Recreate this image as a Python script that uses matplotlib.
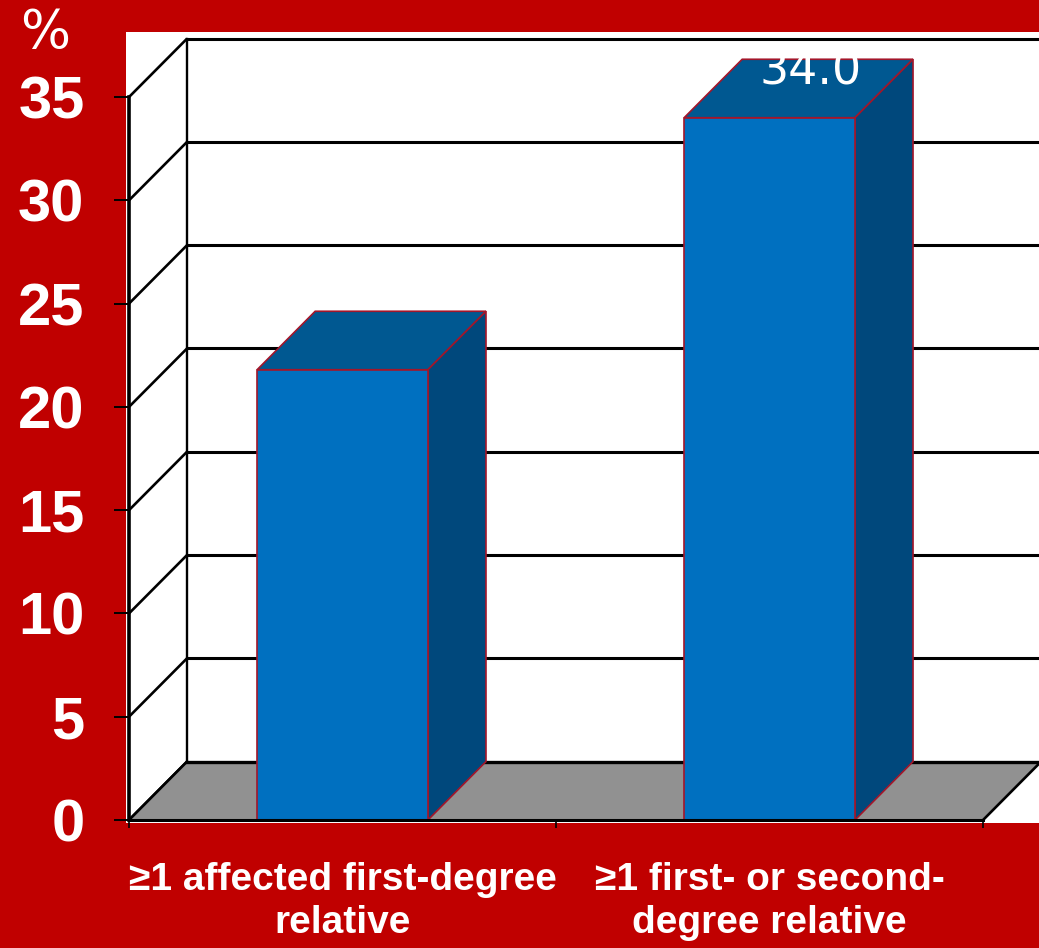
import numpy as np
import matplotlib
matplotlib.use("Agg")
import matplotlib.pyplot as plt
from matplotlib.patches import Polygon

# data
categories = ["\u22651 affected first-degree\nrelative", "\u22651 first- or second-\ndegree relative"]
values = [21.8, 34.0]
shown_labels = [None, "34.0"]
yticks = [0, 5, 10, 15, 20, 25, 30, 35]

red = "#C00000"
front_col = "#0070C0"
top_col = "#005891"
side_col = "#00487C"
edge_col = "#A3162A"
floor_col = "#919191"

# depth of the pseudo 3d box, in data units
ddx = 0.136
ddy = 2.83
bar_w = 0.4

fig = plt.figure(figsize=(10.39, 9.48), dpi=100, facecolor=red)
ax = fig.add_axes([126/1039, 1 - 823/948, 913/1039, 791/948], facecolor="white")
ax.set_xlim(-0.507, 1.631)
ax.set_ylim(-0.145, 38.15)

xl, xr = -0.5, 1.5
right_edge = 1.631

# back wall grid + side wall diagonals
for v in yticks:
    ax.plot([xl, xl + ddx], [v, v + ddy], color="black", lw=1.9, zorder=2, solid_capstyle="butt")
    if v > 0:
        ax.plot([xl + ddx, right_edge], [v + ddy, v + ddy], color="black", lw=2.2, zorder=1)
ax.plot([xl + ddx, xl + ddx], [ddy, yticks[-1] + ddy], color="black", lw=1.7, zorder=1)

# floor
floor = Polygon([[xl, 0], [xr, 0], [xr + ddx, ddy], [xl + ddx, ddy]],
                closed=True, facecolor=floor_col, edgecolor="none", zorder=2)
ax.add_patch(floor)
ax.plot([xl + ddx, right_edge], [ddy, ddy], color="black", lw=2.4, zorder=3)
ax.plot([xl, xl + ddx], [0, ddy], color="black", lw=1.9, zorder=3)
ax.plot([xr, xr + ddx], [0, ddy], color="black", lw=1.9, zorder=3, clip_on=False)

# bars
x = np.arange(len(values))
ax.bar(x, values, width=bar_w, color=front_col, edgecolor=edge_col, linewidth=1.2, zorder=5)
for xi, v in zip(x, values):
    x0, x1 = xi - bar_w / 2, xi + bar_w / 2
    top = Polygon([[x0, v], [x1, v], [x1 + ddx, v + ddy], [x0 + ddx, v + ddy]],
                  closed=True, facecolor=top_col, edgecolor=edge_col, lw=1.2, zorder=4)
    side = Polygon([[x1, 0], [x1 + ddx, ddy], [x1 + ddx, v + ddy], [x1, v]],
                   closed=True, facecolor=side_col, edgecolor=edge_col, lw=1.2, zorder=4)
    ax.add_patch(top)
    ax.add_patch(side)

for xi, v, lab in zip(x, values, shown_labels):
    if lab:
        ax.text(xi + 0.095, v + 1.6, lab, ha="center", va="baseline", color="white",
                fontsize=33, family="DejaVu Sans", zorder=6)

# axes
for s in ["top", "right"]:
    ax.spines[s].set_visible(False)
ax.spines["left"].set_position(("data", xl))
ax.spines["left"].set_bounds(0, 35)
ax.spines["left"].set_linewidth(2.6)
ax.spines["left"].set_zorder(6)
ax.spines["bottom"].set_position(("data", 0))
ax.spines["bottom"].set_bounds(xl, xr)
ax.spines["bottom"].set_linewidth(2.2)
ax.spines["bottom"].set_zorder(6)

ax.set_yticks(yticks)
ax.set_yticklabels([str(t) for t in yticks])
ax.tick_params(axis="y", direction="out", length=11, width=1.4, color="black", pad=21,
               labelsize=43, labelcolor="white")
for t in ax.get_yticklabels():
    t.set_fontfamily(["Liberation Sans", "DejaVu Sans"])
    t.set_fontweight("bold")

ax.set_xticks([xl, 0.5, xr])
ax.set_xticklabels(["", "", ""])
ax.tick_params(axis="x", which="major", direction="out", length=6, width=1.2, color="black")
ax.set_xticks(x, minor=True)
ax.set_xticklabels(categories, minor=True)
ax.tick_params(axis="x", which="minor", length=0, pad=30, labelsize=28, labelcolor="white")
for t in ax.get_xticklabels(minor=True):
    t.set_fontfamily(["Liberation Sans", "DejaVu Sans"])
    t.set_fontweight("bold")
    t.set_linespacing(1.25)

fig.text(20/1039, 1 - 48/948, "%", color="white", fontsize=38, family="DejaVu Sans",
         ha="left", va="baseline")

fig.savefig("out.png", dpi=100, facecolor=red)
